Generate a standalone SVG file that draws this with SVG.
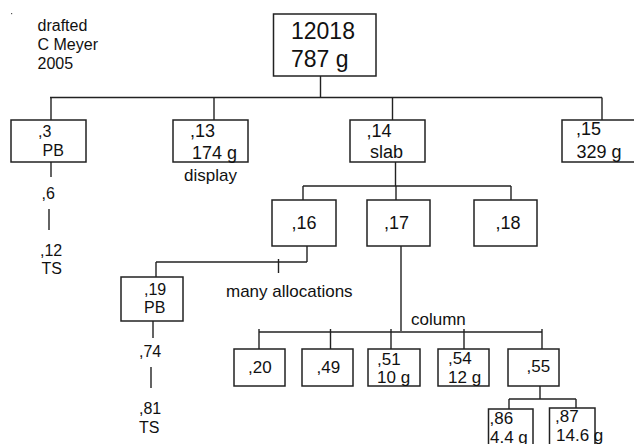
<svg xmlns="http://www.w3.org/2000/svg" width="634" height="444" viewBox="0 0 634 444">
<style>
text{font-family:"Liberation Sans",Arial,sans-serif;fill:#111}
.b{fill:#fff;stroke:#222;stroke-width:1.5}
.c line{stroke:#222;stroke-width:1.4}
.t17{font-size:17px}
.t16{font-size:16px}
.t18{font-size:18px}
.t23{font-size:23px}
</style>
<rect width="634" height="444" fill="#fff"/>
<rect x="11" y="13" width="1.2" height="1.2" fill="#555"/>
<g id="note">
<text class="t16" x="37.5" y="31">drafted</text>
<text class="t16" x="37.5" y="50">C Meyer</text>
<text class="t16" x="37.5" y="69">2005</text>
</g>
<g class="c" id="connectors">
<line x1="320.5" y1="76" x2="320.5" y2="97.5"/>
<line x1="50" y1="97.5" x2="602" y2="97.5"/>
<line x1="51" y1="97.5" x2="51" y2="120"/>
<line x1="214" y1="97.5" x2="214" y2="120"/>
<line x1="392.5" y1="97.5" x2="392.5" y2="120"/>
<line x1="602" y1="97.5" x2="602" y2="120"/>
<line x1="51" y1="162" x2="51" y2="177"/>
<line x1="49" y1="209" x2="49" y2="230"/>
<line x1="395.5" y1="162" x2="395.5" y2="186"/>
<line x1="303" y1="186" x2="511" y2="186"/>
<line x1="303" y1="186" x2="303" y2="200"/>
<line x1="396" y1="186" x2="396" y2="200"/>
<line x1="511" y1="186" x2="511" y2="200"/>
<line x1="307" y1="246" x2="307" y2="262"/>
<line x1="156" y1="262" x2="307" y2="262"/>
<line x1="156" y1="262" x2="156" y2="277"/>
<line x1="278.5" y1="259" x2="278.5" y2="273"/>
<line x1="153" y1="321" x2="153" y2="338"/>
<line x1="151" y1="367" x2="151" y2="388"/>
<line x1="401" y1="246" x2="401" y2="331"/>
<line x1="259" y1="332" x2="542" y2="332"/>
<line x1="259" y1="329" x2="259" y2="349"/>
<line x1="330.5" y1="329" x2="330.5" y2="349"/>
<line x1="391" y1="329" x2="391" y2="349"/>
<line x1="464" y1="329" x2="464" y2="349"/>
<line x1="542" y1="329" x2="542" y2="349"/>
<line x1="540" y1="386" x2="540" y2="399"/>
<line x1="509" y1="399" x2="576" y2="399"/>
<line x1="509" y1="399" x2="509" y2="409"/>
<line x1="576" y1="399" x2="576" y2="408"/>
</g>
<g id="n12018"><rect class="b" x="273.5" y="14" width="102.5" height="62"/>
<text class="t23" x="291" y="39">12018</text><text class="t23" x="291" y="67">787 g</text></g>
<g id="n3"><rect class="b" x="11" y="120" width="75" height="42"/>
<text class="t16" x="38" y="137">,3</text><text class="t16" x="42.5" y="156">PB</text></g>
<g id="n13"><rect class="b" x="173" y="120" width="75" height="42"/>
<text class="t18" x="190" y="137">,13</text><text class="t18" x="192" y="159">174 g</text></g>
<text class="t17" x="184" y="181">display</text>
<g id="n14"><rect class="b" x="350" y="120" width="75" height="42"/>
<text class="t18" x="366.5" y="137">,14</text><text class="t18" x="370" y="158">slab</text></g>
<g id="n15"><rect class="b" x="562" y="120" width="80" height="42"/>
<text class="t18" x="576" y="135">,15</text><text class="t18" x="576.5" y="158">329 g</text></g>
<g id="n6"><text class="t16" x="41.5" y="199">,6</text></g>
<g id="n12"><text class="t16" x="40" y="256">,12</text><text class="t16" x="41.5" y="274">TS</text></g>
<g id="n16"><rect class="b" x="272" y="200" width="64" height="46"/>
<text class="t18" x="291.5" y="229">,16</text></g>
<g id="n17"><rect class="b" x="367" y="200" width="63" height="46"/>
<text class="t18" x="384" y="229">,17</text></g>
<g id="n18"><rect class="b" x="474" y="200" width="63" height="46"/>
<text class="t18" x="495.5" y="229">,18</text></g>
<text class="t17" x="226" y="297">many allocations</text>
<g id="n19"><rect class="b" x="121" y="277" width="62" height="44"/>
<text class="t16" x="144" y="295">,19</text><text class="t16" x="144" y="313">PB</text></g>
<g id="n74"><text class="t16" x="139" y="357">,74</text></g>
<g id="n81"><text class="t16" x="139" y="414">,81</text><text class="t16" x="139" y="433">TS</text></g>
<text class="t17" x="411" y="325">column</text>
<g id="n20"><rect class="b" x="234" y="349" width="51" height="37"/>
<text class="t17" x="248" y="373">,20</text></g>
<g id="n49"><rect class="b" x="302" y="349" width="51" height="37"/>
<text class="t17" x="316.5" y="373">,49</text></g>
<g id="n51"><rect class="b" x="368" y="349" width="52" height="37"/>
<text class="t17" x="377" y="365">,51</text><text class="t17" x="377" y="383">10 g</text></g>
<g id="n54"><rect class="b" x="438" y="349" width="51" height="37"/>
<text class="t17" x="448" y="364">,54</text><text class="t17" x="448" y="383">12 g</text></g>
<g id="n55"><rect class="b" x="508" y="349" width="51" height="37"/>
<text class="t17" x="526.5" y="372">,55</text></g>
<g id="n86"><rect class="b" x="488.5" y="409" width="44.5" height="40"/>
<text class="t17" x="489.5" y="424">,86</text><text class="t17" x="490" y="443">4.4 g</text></g>
<g id="n87"><rect class="b" x="549.5" y="408" width="45.5" height="40"/>
<text class="t17" x="555" y="422">,87</text><text class="t17" x="556" y="441">14.6 g</text></g>
</svg>
